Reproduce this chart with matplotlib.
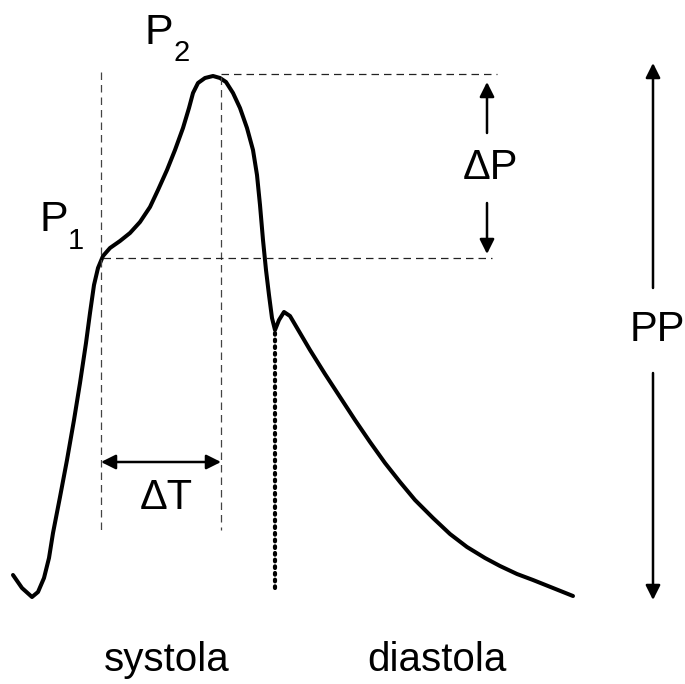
import matplotlib
matplotlib.use("Agg")
import matplotlib.pyplot as plt

# Pressure waveform (pixel-like units, y grows downward)
curve_x = [13, 22, 32, 38, 44, 49, 53, 60, 67, 74, 80, 86, 90, 94, 98, 103, 110, 120, 130, 140,
           150, 158, 167, 175, 183, 189, 193, 198, 205, 213, 220, 226, 233, 240, 247, 253, 257,
           260, 263, 266, 269, 272, 275, 279, 284, 290, 300, 310, 325, 340, 355, 370, 385, 400,
           415, 433, 450, 467, 485, 500, 517, 533, 553, 573]
curve_y = [575, 588, 597, 592, 578, 558, 533, 497, 460, 420, 383, 343, 313, 285, 268, 256, 248,
           241, 233, 222, 207, 190, 170, 150, 128, 108, 93, 83, 78, 76, 78, 82, 93, 108, 128,
           150, 175, 205, 240, 270, 295, 318, 330, 320, 312, 316, 333, 350, 374, 397, 420, 442,
           463, 482, 500, 518, 534, 547, 558, 566, 574, 580, 588, 596]

# Reference levels / times
t_p1 = 101
t_p2 = 221
t_notch = 275
p1_level = 258
p2_level = 74
pp_top = 63
pp_bottom = 600

labels_phase = ["systola", "diastola"]

fig = plt.figure(figsize=(6.85, 6.84), dpi=100)
ax = fig.add_axes([0, 0, 1, 1])
ax.set_xlim(0, 685)
ax.set_ylim(684, 0)
ax.axis("off")

# Main curve
ax.plot(curve_x, curve_y, color="black", lw=2.9, solid_joinstyle="round", solid_capstyle="round")

# Dashed guide lines
ax.plot([t_p1, t_p1], [72, 530], color="#444444", lw=0.9, ls=(0, (6, 4)))
ax.plot([t_p2, t_p2], [77, 530], color="#444444", lw=0.9, ls=(0, (6, 4)))
ax.plot([t_p2, 497], [p2_level, p2_level], color="#222222", lw=0.9, ls=(0, (6, 4)))
ax.plot([103, 492], [p1_level, p1_level], color="#222222", lw=0.9, ls=(0, (6, 4)))

# Dotted line at dicrotic notch
ax.plot([t_notch, t_notch], [333, 590], color="black", lw=3.0, ls=(0, (0.4, 1.2)),
        dash_capstyle="round")

arrow_kw = dict(arrowstyle="-|>", color="black", lw=1.8, mutation_scale=22,
                shrinkA=0, shrinkB=0)

# Delta T
ax.annotate("", xy=(t_p1, 462), xytext=(t_p2, 462),
            arrowprops=dict(arrowstyle="<|-|>", color="black", lw=1.8, mutation_scale=22,
                            shrinkA=0, shrinkB=0))
ax.text(166, 498, "ΔT", fontsize=30, ha="center", va="center", family="Liberation Sans")

# Delta P
ax.annotate("", xy=(487, 82), xytext=(487, 133), arrowprops=arrow_kw)
ax.annotate("", xy=(487, 254), xytext=(487, 203), arrowprops=arrow_kw)
ax.text(491, 168, "ΔP", fontsize=30, ha="center", va="center", family="Liberation Sans")

# PP
ax.annotate("", xy=(653, pp_top), xytext=(653, 288), arrowprops=arrow_kw)
ax.annotate("", xy=(653, pp_bottom), xytext=(653, 373), arrowprops=arrow_kw)
ax.text(657, 330, "PP", fontsize=30, ha="center", va="center", family="Liberation Sans")

# P1, P2 labels
ax.text(54, 220, "P", fontsize=31, ha="center", va="center", family="Liberation Sans")
ax.text(76, 241, "1", fontsize=21, ha="center", va="center", family="Liberation Sans")
ax.text(159, 33, "P", fontsize=31, ha="center", va="center", family="Liberation Sans")
ax.text(182, 53, "2", fontsize=21, ha="center", va="center", family="Liberation Sans")

# Phase labels
ax.text(167, 660, labels_phase[0], fontsize=29, ha="center", va="center", family="Liberation Sans")
ax.text(437, 660, labels_phase[1], fontsize=29, ha="center", va="center", family="Liberation Sans")

fig.savefig("out.png", dpi=100)
